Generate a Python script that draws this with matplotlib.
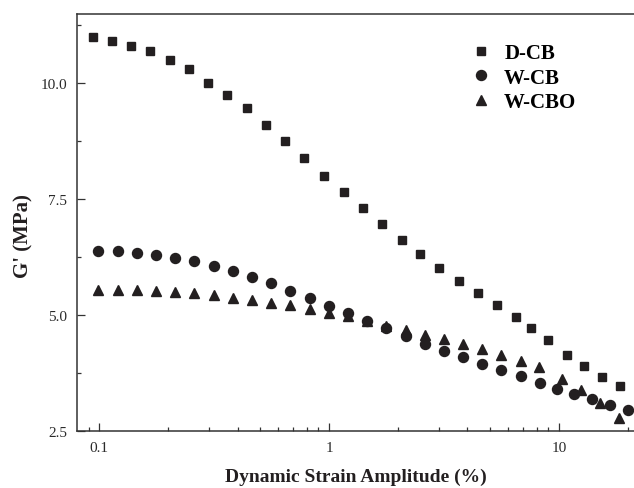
import numpy as np
import matplotlib
matplotlib.use('Agg')
import matplotlib.pyplot as plt
from matplotlib.ticker import LogLocator, FixedLocator, FuncFormatter

plt.rcParams['font.family'] = 'Liberation Serif'

# D-CB (squares)
strain_dcb = [0.0939, 0.1139, 0.1377, 0.1671, 0.2029, 0.2470, 0.2987, 0.3613, 0.4387, 0.5322,
              0.6437, 0.7808, 0.9512, 1.158, 1.401, 1.700, 2.071, 2.499, 3.017, 3.664,
              4.444, 5.376, 6.535, 7.541, 9.000, 10.80, 12.88, 15.43, 18.46]
g_dcb = [11.00, 10.90, 10.80, 10.70, 10.50, 10.30, 10.00, 9.75, 9.46, 9.10,
         8.75, 8.38, 8.00, 7.66, 7.30, 6.96, 6.62, 6.32, 6.01, 5.74,
         5.47, 5.22, 4.96, 4.71, 4.46, 4.14, 3.91, 3.67, 3.47]

# W-CB (circles)
strain_wcb = [0.0993, 0.1206, 0.1458, 0.1770, 0.2146, 0.2597, 0.3152, 0.3824, 0.4640, 0.5612,
              0.6788, 0.8268, 1.000, 1.209, 1.463, 1.778, 2.151, 2.609, 3.162, 3.832,
              4.650, 5.623, 6.823, 8.270, 9.772, 11.65, 13.99, 16.70, 19.95]
g_wcb = [6.39, 6.37, 6.34, 6.29, 6.24, 6.16, 6.06, 5.94, 5.81, 5.68,
         5.52, 5.36, 5.20, 5.04, 4.87, 4.71, 4.54, 4.38, 4.23, 4.10,
         3.95, 3.81, 3.68, 3.53, 3.41, 3.30, 3.18, 3.07, 2.95]

# W-CBO (triangles)
strain_wcbo = [0.0993, 0.1206, 0.1458, 0.1770, 0.2146, 0.2597, 0.3152, 0.3824, 0.4640, 0.5612,
               0.6788, 0.8268, 1.000, 1.209, 1.463, 1.778, 2.151, 2.609, 3.162, 3.832,
               4.650, 5.623, 6.823, 8.17, 10.27, 12.53, 15.08, 18.24]
g_wcbo = [5.55, 5.55, 5.53, 5.52, 5.50, 5.48, 5.44, 5.37, 5.33, 5.27,
          5.22, 5.14, 5.05, 4.97, 4.88, 4.76, 4.68, 4.58, 4.49, 4.37,
          4.26, 4.14, 4.01, 3.88, 3.63, 3.38, 3.11, 2.77]

ink = '#231f20'

fig = plt.figure(figsize=(6.34, 4.89), dpi=100)
ax = fig.add_axes([0.1215, 0.1166, 0.8785, 0.8527])

ax.plot(strain_dcb, g_dcb, 's', color=ink, markersize=6.3, label='D-CB')
ax.plot(strain_wcb, g_wcb, 'o', color=ink, markersize=7.2, label='W-CB')
ax.plot(strain_wcbo, g_wcbo, '^', color=ink, markersize=7.6, label='W-CBO')

ax.set_xscale('log')
ax.set_xlim(0.0802, 21.2)
ax.set_ylim(2.5, 11.49)

ax.xaxis.set_major_locator(FixedLocator([0.1, 1, 10]))
ax.xaxis.set_major_formatter(FuncFormatter(lambda v, p: {0.1: '0.1', 1: '1', 10: '10'}.get(v, '')))
ax.xaxis.set_minor_locator(LogLocator(base=10, subs=np.arange(2, 10)))
ax.xaxis.set_minor_formatter(FuncFormatter(lambda v, p: ''))

ax.set_yticks([2.5, 5.0, 7.5, 10.0])
ax.set_yticklabels(['2.5', '5.0', '7.5', '10.0'])
ax.set_yticks([3.75, 6.25, 8.75, 11.25], minor=True)

ax.tick_params(which='both', direction='in', width=0.9, color='#333333',
               labelsize=11, labelcolor='#2a2a2a', top=False, right=False)
ax.tick_params(which='major', length=6, pad=7)
ax.tick_params(which='minor', length=3)

ax.spines['right'].set_visible(False)
for s in ['left', 'bottom', 'top']:
    ax.spines[s].set_linewidth(1.1)
    ax.spines[s].set_color('#333333')

ax.set_xlabel('Dynamic Strain Amplitude (%)', fontsize=14, fontweight='bold', color=ink, labelpad=10)
ax.set_ylabel("G' (MPa)", fontsize=15, fontweight='bold', color=ink)
ax.yaxis.set_label_coords(-0.078, 0.47)

ax.legend(loc='upper left', bbox_to_anchor=(0.707, 0.93), frameon=False,
          prop={'weight': 'bold', 'size': 15}, handlelength=1.0, handletextpad=0.6,
          labelspacing=0.22, borderpad=0, borderaxespad=0)

fig.savefig('out.png', dpi=100)
